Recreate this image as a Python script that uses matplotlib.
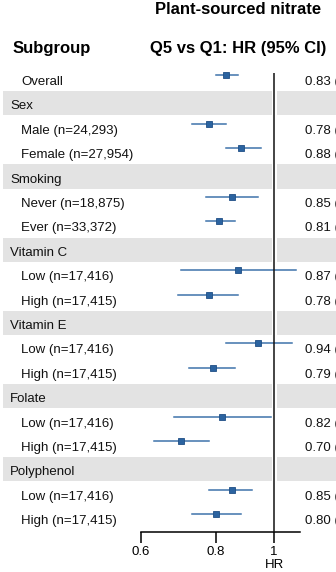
import numpy as np
import matplotlib
matplotlib.use('Agg')
import matplotlib.pyplot as plt
from matplotlib.transforms import blended_transform_factory

plt.rcParams['font.family'] = ['Liberation Sans', 'DejaVu Sans']

# rows: (label, is_header)
labels = ['Overall', 'Sex', 'Male (n=24,293)', 'Female (n=27,954)',
          'Smoking', 'Never (n=18,875)', 'Ever (n=33,372)',
          'Vitamin C', 'Low (n=17,416)', 'High (n=17,415)',
          'Vitamin E', 'Low (n=17,416)', 'High (n=17,415)',
          'Folate', 'Low (n=17,416)', 'High (n=17,415)',
          'Polyphenol', 'Low (n=17,416)', 'High (n=17,415)']
is_header = [False, True, False, False, True, False, False, True, False, False,
             True, False, False, True, False, False, True, False, False]

# estimates for non-header rows, in order
hr = [0.83, 0.78, 0.88, 0.85, 0.81, 0.87, 0.78, 0.94, 0.79, 0.82, 0.70, 0.85, 0.80]
lo = [0.80, 0.73, 0.83, 0.77, 0.77, 0.70, 0.69, 0.83, 0.72, 0.68, 0.63, 0.78, 0.73]
hi = [0.87, 0.83, 0.95, 0.94, 0.86, 1.09, 0.87, 1.07, 0.86, 0.99, 0.78, 0.92, 0.88]

ticks = [0.6, 0.8, 1.0]
tick_labels = ['0.6', '0.8', '1']

W, H = 336, 572
fig = plt.figure(figsize=(W / 100, H / 100), dpi=100)

pitch = 24.4
top_px = 82.0     # centre of first row
axis_px = 532.0   # x axis line
ax = fig.add_axes([0, 1 - axis_px / H, 1, axis_px / H])
ax.set_xscale('log')
# x pixel = 274 + 260*ln(v)
ax.set_xlim(np.exp(-274 / 260), np.exp((W - 274) / 260))
ax.set_ylim((axis_px - top_px) / pitch, -top_px / pitch)
ax.patch.set_alpha(0)

grey = '#e3e3e3'
blue_m = '#2b63a0'
blue_l = '#3f73ab'

xform = blended_transform_factory(ax.transAxes, ax.transData)
k = 0
for i, (lab, hd) in enumerate(zip(labels, is_header)):
    if hd:
        ax.axhspan(i - 0.62, i + 0.37, xmin=3 / W, xmax=272 / W, color=grey, lw=0, zorder=0)
        ax.axhspan(i - 0.62, i + 0.37, xmin=277 / W, xmax=1, color=grey, lw=0, zorder=0)
        ax.text(10 / W, i, lab, transform=xform, ha='left', va='center', fontsize=9.5, color='#111111')
    else:
        ax.text(21 / W, i, lab, transform=xform, ha='left', va='center', fontsize=9.5, color='#111111')
        ym = i - 0.29
        ax.plot([lo[k], hi[k]], [ym, ym], color=blue_l, lw=1.1, zorder=2, clip_on=False)
        ax.plot(hr[k], ym, marker='s', ms=4.5, color=blue_m, mec='#1f4f85', mew=0.6, zorder=3)
        # value column is cut by the right edge, as in the original
        ax.text(305 / W, i, '%.2f (%.2f, %.2f)' % (hr[k], lo[k], hi[k]), transform=xform,
                ha='left', va='center', fontsize=9.5, color='#111111', clip_on=False)
        k += 1

ax.vlines(1.0, (73 - top_px) / pitch, (axis_px - top_px) / pitch, color='#111111', lw=1.1, zorder=4)

for s in ['top', 'right', 'left']:
    ax.spines[s].set_visible(False)
ax.spines['bottom'].set_bounds(0.6, np.exp((300 - 274) / 260))
ax.spines['bottom'].set_linewidth(1.1)
ax.set_yticks([])
ax.set_xticks(ticks)
ax.set_xticklabels(tick_labels, fontsize=9.5)
ax.xaxis.set_minor_locator(matplotlib.ticker.NullLocator())
ax.tick_params(axis='x', direction='out', length=8, width=1.1, pad=2)
ax.set_xlabel('HR', fontsize=9.5)
ax.xaxis.set_label_coords(274 / W, -33 / axis_px)
ax.xaxis.label.set_va('center')

fig.text(238 / W, 1 - 10 / H, 'Plant-sourced nitrate', ha='center', va='center',
         fontsize=12, fontweight='bold')
fig.text(13 / W, 1 - 48 / H, 'Subgroup', ha='left', va='center', fontsize=12, fontweight='bold')
fig.text(238 / W, 1 - 48 / H, 'Q5 vs Q1: HR (95% CI)', ha='center', va='center',
         fontsize=12, fontweight='bold')

fig.savefig('out.png', dpi=100)
